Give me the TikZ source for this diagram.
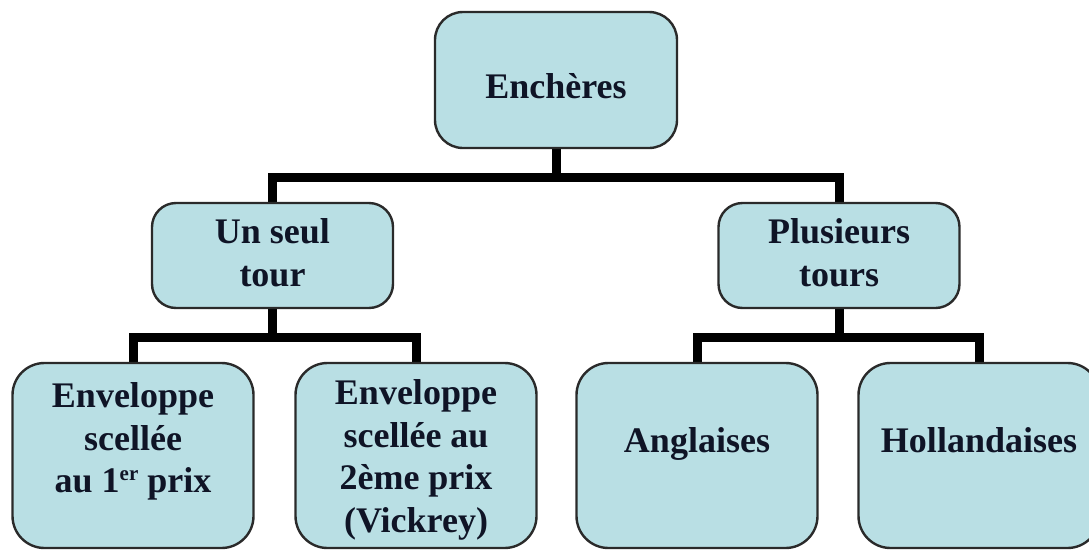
\documentclass[tikz,border=0pt]{standalone}
\usepackage{fontspec}
\setmainfont{Liberation Serif}
\usetikzlibrary{backgrounds}
\definecolor{boxfill}{HTML}{B9DFE4}
\definecolor{boxline}{HTML}{2A2A2A}
\definecolor{txtcol}{HTML}{0F1426}
\newcommand{\supr}[1]{\raisebox{12pt}{\fontsize{21}{21}\selectfont #1}}
\begin{document}
\begin{tikzpicture}[x=1pt,y=-1pt,
  box/.style={draw=boxline, line width=2.4pt, fill=boxfill, rounded corners=28pt, inner sep=0pt},
  bigbox/.style={box, rounded corners=32pt, minimum width=241pt, minimum height=185pt},
  midbox/.style={box, rounded corners=24pt, minimum width=241pt, minimum height=105pt},
  lbl/.style={inner sep=0pt, align=center, text=txtcol, font=\fontsize{36}{42.5}\selectfont\bfseries},
  conn/.style={line width=9pt, draw=black, line join=miter}]
\useasboundingbox (0,0) rectangle (1089,549);
% boxes
\node[box, minimum width=242pt, minimum height=136pt] (root) at (556,80) {};
\node[midbox] (u) at (272.5,255.5) {};
\node[midbox] (p) at (839,255.5) {};
\node[bigbox] (b1) at (133,455.5) {};
\node[bigbox] (b2) at (416,455.5) {};
\node[bigbox] (b3) at (697,455.5) {};
\node[bigbox] (b4) at (979,455.5) {};
% labels
\node[lbl] (troot) at ([yshift=-6pt]root.center) {Enchères};
\node[lbl] (tu) at ([yshift=3pt]u.center) {Un seul\\tour};
\node[lbl] (tp) at ([yshift=3pt]p.center) {Plusieurs\\tours};
\node[lbl] (tb1) at ([yshift=14pt]b1.center) {Enveloppe\\scellée\\au 1\supr{er} prix};
\node[lbl] (tb2) at ([yshift=-4.5pt]b2.center) {Enveloppe\\scellée au\\2ème prix\\(Vickrey)};
\node[lbl] (tb3) at ([yshift=12pt]b3.center) {Anglaises};
\node[lbl] (tb4) at ([yshift=15.5pt]b4.center) {Hollandaises};
% connectors
\coordinate (j1) at (556,177);
\coordinate (j2) at (272.5,337);
\coordinate (j3) at (839,337);
\begin{scope}[on background layer]
\draw[conn] (root.south) -- (j1);
\draw[conn] (u.north) |- (j1) -| (p.north);
\draw[conn] (u.south) -- (j2);
\draw[conn] (b1.north) |- (j2) -| (b2.north);
\draw[conn] (p.south) -- (j3);
\draw[conn] (b3.north) |- (j3) -| (b4.north);
\end{scope}
\end{tikzpicture}
\end{document}
